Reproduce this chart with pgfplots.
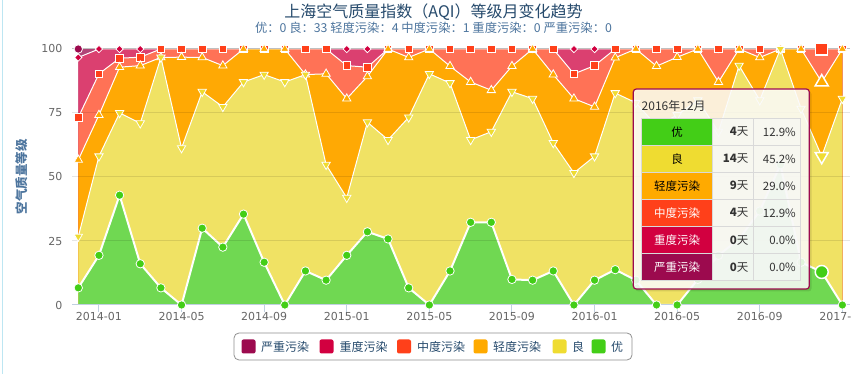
\documentclass[border=0pt]{standalone}
\usepackage{pgfplots}
\pgfplotsset{compat=1.18}
\usepackage{pgfplotstable}
\usepackage{fontspec}
\setmainfont{Noto Sans CJK SC}
\newfontfamily\tickfont{DejaVu Sans}
\definecolor{cA}{HTML}{43CE17}
\definecolor{cB}{HTML}{EFDC31}
\definecolor{cC}{HTML}{FFAA00}
\definecolor{cD}{HTML}{FF401A}
\definecolor{cE}{HTML}{D20040}
\definecolor{cF}{HTML}{9C0A4E}
\definecolor{fA}{HTML}{70D852}
\definecolor{fB}{HTML}{F0E264}
\definecolor{fC}{HTML}{FFA904}
\definecolor{fD}{HTML}{FF7256}
\definecolor{fE}{HTML}{DB4070}
\definecolor{fF}{HTML}{B04678}
\definecolor{titlec}{HTML}{274B6D}
\definecolor{subc}{HTML}{4D759E}
\definecolor{labc}{HTML}{666666}
\definecolor{axc}{HTML}{C0D0E0}
\definecolor{edgec}{HTML}{BDE6F2}
\definecolor{legc}{HTML}{909090}
\definecolor{cellc}{HTML}{333333}

% cumulative percentage tops: c1=优, c2=+良, c3=+轻度, c4=+中度, c5=+重度, c6=+严重
\pgfplotstableread{
x c1 c2 c3 c4 c5 c6
0 6.7 26.7 56.7 73.3 96.7 100
1 19.4 58.1 74.2 90.3 100 100
2 42.9 75.0 92.9 96.4 100 100
3 16.1 71.0 93.5 96.8 100 100
4 6.7 96.7 96.7 100 100 100
5 0 61.3 96.8 100 100 100
6 30.0 83.3 96.7 100 100 100
7 22.6 77.4 93.5 100 100 100
8 35.5 87.1 100 100 100 100
9 16.7 90.0 100 100 100 100
10 0 87.1 100 100 100 100
11 13.3 90.0 90.0 100 100 100
12 9.7 54.8 90.3 100 100 100
13 19.4 41.9 80.6 93.5 100 100
14 28.6 71.4 89.3 92.9 100 100
15 25.8 64.5 100 100 100 100
16 6.7 73.3 96.7 100 100 100
17 0 90.3 100 100 100 100
18 13.3 86.7 93.3 100 100 100
19 32.3 64.5 87.1 100 100 100
20 32.3 67.7 83.9 100 100 100
21 10.0 83.3 93.3 100 100 100
22 9.7 80.6 100 100 100 100
23 13.3 63.3 90.0 100 100 100
24 0 51.6 80.6 90.3 100 100
25 9.7 58.1 77.4 93.5 100 100
26 13.8 82.8 96.6 100 100 100
27 9.7 79.0 100 100 100 100
28 0 70.0 93.3 100 100 100
29 0 74.2 96.8 100 100 100
30 10.0 80.0 100 100 100 100
31 19.4 67.7 87.1 100 100 100
32 25.8 93.5 100 100 100 100
33 36.7 80.0 96.7 100 100 100
34 54.8 100 100 100 100 100
35 16.7 76.7 100 100 100 100
36 12.9 58.1 87.1 100 100 100
37 0 80.6 100 100 100 100
}\aqi

\begin{document}
\begin{tikzpicture}
\path[use as bounding box] (0pt,0pt) rectangle (867pt,374pt);
\fill[white] (0pt,0pt) rectangle (867pt,374pt);
\draw[edgec, line width=1pt] (2pt,0pt) -- (2pt,374pt);

\begin{axis}[
  at={(72pt,69pt)}, anchor=south west,
  scale only axis, width=778pt, height=256pt,
  xmin=-0.305, xmax=37.37, ymin=0, ymax=100,
  clip=false,
  axis line style={draw=none},
  xtick={1,5,9,13,17,21,25,29,33,37},
  xticklabels={2014-01,2014-05,2014-09,2015-01,2015-05,2015-09,2016-01,2016-05,2016-09,{2017-\hphantom{01}}},
  ytick={0,25,50,75,100},
  yticklabels={0,25,50,75,100},
  xtick pos=bottom, ytick pos=left,
  tick align=outside, major tick length=7pt,
  xtick style={draw=axc, line width=1pt},
  ytick style={draw=none},
  /pgf/number format/assume math mode=true,
  ticklabel style={font=\tickfont\fontsize{11}{13}\selectfont, text=labc},
  yticklabel style={anchor=east, inner sep=0pt, xshift=-2.5pt},
  xticklabel style={anchor=north, inner sep=0pt},
]
% areas, painted from the top series down
\addplot[draw=none, fill=fF] table[x=x,y=c6]{\aqi} \closedcycle;
\addplot[white, line width=1pt] table[x=x,y=c6]{\aqi};
\addplot[draw=none, fill=fE] table[x=x,y=c5]{\aqi} \closedcycle;
\addplot[white, line width=1pt] table[x=x,y=c5]{\aqi};
\addplot[draw=none, fill=fD] table[x=x,y=c4]{\aqi} \closedcycle;
\addplot[white, line width=1pt] table[x=x,y=c4]{\aqi};
\addplot[draw=none, fill=fC] table[x=x,y=c3]{\aqi} \closedcycle;
\addplot[white, line width=1pt] table[x=x,y=c3]{\aqi};
\addplot[draw=none, fill=fB] table[x=x,y=c2]{\aqi} \closedcycle;
\addplot[white, line width=1pt] table[x=x,y=c2]{\aqi};
\addplot[draw=none, fill=fA] table[x=x,y=c1]{\aqi} \closedcycle;
\addplot[white, line width=2pt] table[x=x,y=c1]{\aqi};
% grid lines and axis line
\draw[black, opacity=0.10, line width=1pt] (axis cs:-0.305,25) -- (axis cs:37.37,25);
\draw[black, opacity=0.10, line width=1pt] (axis cs:-0.305,50) -- (axis cs:37.37,50);
\draw[black, opacity=0.10, line width=1pt] (axis cs:-0.305,75) -- (axis cs:37.37,75);
\draw[black!25, line width=1pt] (axis cs:-0.305,100) -- (axis cs:37.37,100);
\draw[axc, line width=1pt] (axis cs:-0.305,0) -- (axis cs:37.37,0);
% markers
\addplot[only marks, mark=*, mark size=4.2pt, mark options={fill=cF, draw=white, line width=0.8pt}] coordinates {(0,100)};
\addplot[only marks, mark=square*, mark size=2.6pt, mark options={rotate=45, fill=cE, draw=white, line width=0.8pt}] table[x=x,y=c5]{\aqi};
\addplot[only marks, mark=square*, mark size=3.8pt, mark options={fill=cD, draw=white, line width=0.8pt}] table[x=x,y=c4]{\aqi};
\addplot[only marks, mark=triangle*, mark size=4.8pt, mark options={fill=cC, draw=white, line width=0.8pt}] table[x=x,y=c3]{\aqi};
\addplot[only marks, mark=triangle*, mark size=4.8pt, mark options={rotate=180, fill=cB, draw=white, line width=0.8pt}] table[x=x,y=c2]{\aqi};
\addplot[only marks, mark=*, mark size=4.2pt, mark options={fill=cA, draw=white, line width=0.8pt}] table[x=x,y=c1]{\aqi};
% hovered month (2016-12)
\addplot[only marks, mark=square*, mark size=6pt, mark options={fill=cD, draw=white, line width=1.5pt}] coordinates {(36,100)};
\addplot[only marks, mark=triangle*, mark size=7.5pt, mark options={fill=cC, draw=white, line width=1.5pt}] coordinates {(36,87.1)};
\addplot[only marks, mark=triangle*, mark size=7.5pt, mark options={rotate=180, fill=cB, draw=white, line width=1.5pt}] coordinates {(36,58.1)};
\addplot[only marks, mark=*, mark size=6.5pt, mark options={fill=cA, draw=white, line width=1.5pt}] coordinates {(36,12.9)};
\end{axis}

% titles
\node[text=titlec, font=\fontsize{16}{19}\selectfont] at (433.5pt,362pt) {上海空气质量指数（AQI）等级月变化趋势};
\node[text=subc, font=\fontsize{12.3}{14}\selectfont] at (433.5pt,346pt) {优：0 良：33 轻度污染：4 中度污染：1 重度污染：0 严重污染：0};
\node[rotate=90, text=subc, font=\bfseries\fontsize{12.5}{15}\selectfont] at (22pt,197pt) {空气质量等级};

% legend
\draw[legc, line width=0.8pt, rounded corners=5pt] (234pt,14pt) rectangle (632pt,41pt);
\fill[cF, rounded corners=2pt] (241.5pt,20.5pt) rectangle (255.5pt,34.5pt);
\node[anchor=west, inner sep=0pt, text=titlec, font=\fontsize{12}{14}\selectfont] at (261pt,27.5pt) {严重污染};
\fill[cE, rounded corners=2pt] (319.5pt,20.5pt) rectangle (333.5pt,34.5pt);
\node[anchor=west, inner sep=0pt, text=titlec, font=\fontsize{12}{14}\selectfont] at (339.5pt,27.5pt) {重度污染};
\fill[cD, rounded corners=2pt] (397pt,20.5pt) rectangle (411pt,34.5pt);
\node[anchor=west, inner sep=0pt, text=titlec, font=\fontsize{12}{14}\selectfont] at (417pt,27.5pt) {中度污染};
\fill[cC, rounded corners=2pt] (473.5pt,20.5pt) rectangle (487.5pt,34.5pt);
\node[anchor=west, inner sep=0pt, text=titlec, font=\fontsize{12}{14}\selectfont] at (493pt,27.5pt) {轻度污染};
\fill[cB, rounded corners=2pt] (552.5pt,20.5pt) rectangle (566.5pt,34.5pt);
\node[anchor=west, inner sep=0pt, text=titlec, font=\fontsize{12}{14}\selectfont] at (572pt,27.5pt) {良};
\fill[cA, rounded corners=2pt] (591.5pt,20.5pt) rectangle (605.5pt,34.5pt);
\node[anchor=west, inner sep=0pt, text=titlec, font=\fontsize{12}{14}\selectfont] at (611pt,27.5pt) {优};

% tooltip
\fill[black, opacity=0.10, rounded corners=3pt] (635.5pt,82.5pt) rectangle (811.5pt,283pt);
\draw[cF, line width=1.2pt, fill=white, fill opacity=0.85, rounded corners=3pt] (633.3pt,85pt) rectangle (809.3pt,285pt);
\node[anchor=west, inner sep=0pt, text=cellc, font=\fontsize{12}{14}\selectfont] at (641.5pt,268pt) {2016年12月};
\fill[black!3, fill opacity=0.6] (712.3pt,93.3pt) rectangle (800.7pt,255.7pt);
\fill[cA] (641.7pt,228.6pt) rectangle (712.3pt,255.7pt);
\fill[cB] (641.7pt,201.6pt) rectangle (712.3pt,228.6pt);
\fill[cC] (641.7pt,174.5pt) rectangle (712.3pt,201.6pt);
\fill[cD] (641.7pt,147.4pt) rectangle (712.3pt,174.5pt);
\fill[cE] (641.7pt,120.4pt) rectangle (712.3pt,147.4pt);
\fill[cF] (641.7pt,93.3pt) rectangle (712.3pt,120.4pt);
\draw[black!15, line width=0.8pt] (641.7pt,93.3pt) rectangle (800.7pt,255.7pt);
\draw[black!15, line width=0.8pt] (641.7pt,228.6pt) -- (800.7pt,228.6pt) (641.7pt,201.6pt) -- (800.7pt,201.6pt) (641.7pt,174.5pt) -- (800.7pt,174.5pt) (641.7pt,147.4pt) -- (800.7pt,147.4pt) (641.7pt,120.4pt) -- (800.7pt,120.4pt) (712.3pt,93.3pt) -- (712.3pt,255.7pt) (753.3pt,93.3pt) -- (753.3pt,255.7pt);
\begin{scope}[every node/.style={inner sep=0pt, font=\fontsize{11.5}{13}\selectfont}]
\node[text=black] at (677pt,242.2pt) {优};
\node[text=black] at (677pt,215.1pt) {良};
\node[text=black] at (677pt,188.1pt) {轻度污染};
\node[text=white] at (677pt,161.0pt) {中度污染};
\node[text=white] at (677pt,133.9pt) {重度污染};
\node[text=white] at (677pt,106.9pt) {严重污染};
\node[anchor=east, text=cellc] at (748.5pt,242.2pt) {\textbf{4}天};
\node[anchor=east, text=cellc] at (748.5pt,215.1pt) {\textbf{14}天};
\node[anchor=east, text=cellc] at (748.5pt,188.1pt) {\textbf{9}天};
\node[anchor=east, text=cellc] at (748.5pt,161.0pt) {\textbf{4}天};
\node[anchor=east, text=cellc] at (748.5pt,133.9pt) {\textbf{0}天};
\node[anchor=east, text=cellc] at (748.5pt,106.9pt) {\textbf{0}天};
\node[anchor=east, text=cellc] at (796pt,242.2pt) {12.9\%};
\node[anchor=east, text=cellc] at (796pt,215.1pt) {45.2\%};
\node[anchor=east, text=cellc] at (796pt,188.1pt) {29.0\%};
\node[anchor=east, text=cellc] at (796pt,161.0pt) {12.9\%};
\node[anchor=east, text=cellc] at (796pt,133.9pt) {0.0\%};
\node[anchor=east, text=cellc] at (796pt,106.9pt) {0.0\%};
\end{scope}
\end{tikzpicture}
\end{document}
